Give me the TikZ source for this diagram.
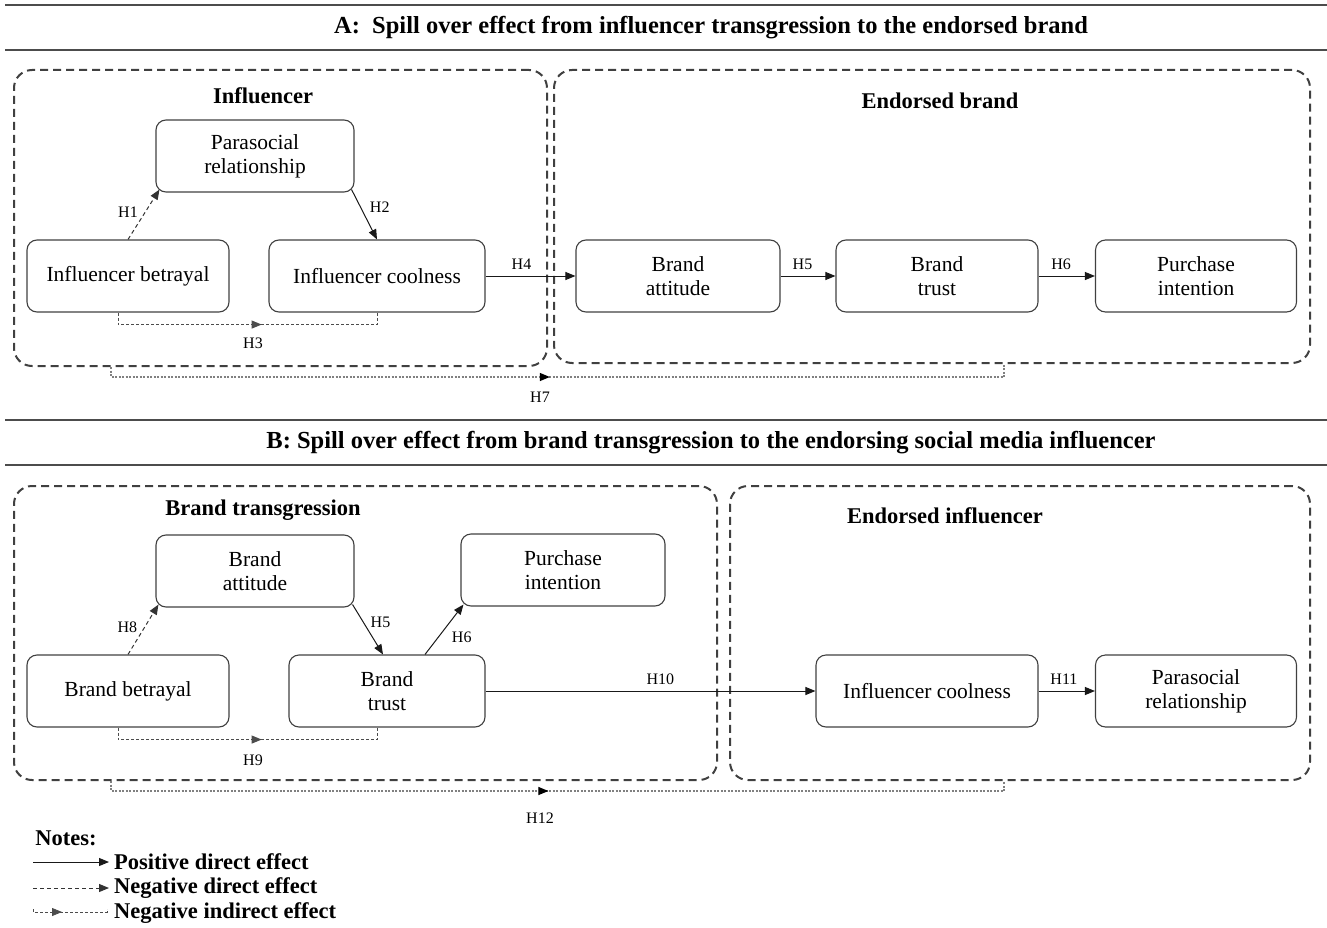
\documentclass[tikz,border=0pt]{standalone}
\usepackage{fontspec}
\setmainfont{Liberation Serif}
\usetikzlibrary{arrows.meta,calc,decorations.markings}
\begin{document}
\begin{tikzpicture}[x=1pt,y=-1pt,
  bx/.style={draw=black!75, line width=1.1pt, rounded corners=10pt, align=center,
    minimum height=72pt, inner sep=2pt, font=\fontsize{21.5}{24}\selectfont},
  grp/.style={draw=black!75, line width=2pt, dash pattern=on 8pt off 5pt, rounded corners=18pt, inner sep=0pt},
  hd/.style={font=\fontsize{22.5}{25}\selectfont\bfseries},
  ttl/.style={font=\fontsize{24.5}{27}\selectfont\bfseries},
  hl/.style={font=\fontsize{16}{18}\selectfont, inner sep=1pt},
  arrtip/.style={-{Triangle[length=10pt,width=8pt]}},
  posarr/.style={draw=black!90, line width=1pt, arrtip},
  negarr/.style={draw=black!80, line width=1pt, dash pattern=on 4pt off 3pt, arrtip},
  indarr/.style={draw=black!70, line width=1pt, dash pattern=on 3pt off 2pt,
    postaction={decorate}, decoration={markings, mark=at position #1 with {\arrow{Triangle[length=10pt,width=8pt]}}}},
  indarrb/.style={draw=black!50, line width=1.2pt, dash pattern=on 2pt off 1.5pt,
    postaction={decorate}, decoration={markings, mark=at position #1 with {\arrow[black]{Triangle[length=10pt,width=8pt]}}}},
  hrule/.style={draw=black!70, line width=2.5pt},
  legt/.style={font=\fontsize{22.5}{25}\selectfont\bfseries, anchor=west, inner sep=0pt}
]
\useasboundingbox (0,0) rectangle (1327,928);
% rules and titles
\draw[hrule] (5,5) -- (1327,5);
\draw[hrule] (5,50) -- (1327,50);
\node[ttl] (tA) at (711,28) {A:\ \ Spill over effect from influencer transgression to the endorsed brand};
\draw[hrule] (5,420) -- (1327,420);
\draw[hrule] (5,465) -- (1327,465);
\node[ttl] (tB) at (711,443) {B: Spill over effect from brand transgression to the endorsing social media influencer};

% ---------- Panel A ----------
\node[grp, minimum width=533pt, minimum height=296pt] (gA1) at (280.5,218) {};
\node[grp, minimum width=756pt, minimum height=293pt] (gA2) at (932,216.5) {};
\node[hd] (hA1) at (263,96) {Influencer};
\node[hd] (hA2) at (940,101) {Endorsed brand};

\node[bx, minimum width=198pt] (ps) at (255,156) {Parasocial\\relationship};
\node[bx, minimum width=202pt] (ib) at (128,276) {Influencer betrayal};
\node[bx, minimum width=216pt] (ic) at (377,276) {Influencer coolness};
\node[bx, minimum width=204pt] (bat) at (678,276) {Brand\\attitude};
\node[bx, minimum width=202pt] (btr) at (937,276) {Brand\\trust};
\node[bx, minimum width=201pt] (pin) at (1196,276) {Purchase\\intention};

\draw[negarr] (ib.north) -- ($(ps.south west)+(4,-3)$) node[hl, pos=0.55, left=6pt] (h1) {H1};
\draw[posarr] ($(ps.south east)+(-3,-3)$) -- (ic.north) node[hl, pos=0.35, right=8pt] (h2) {H2};
\draw[indarr=0.55] ($(ib.south)+(-10,0)$) -- ++(0,12) -| (ic.south);
\node[hl] (h3) at (253,343) {H3};
\draw[posarr] (ic.east) -- (bat.west) node[hl, pos=0.4, above=5pt] (h4) {H4};
\draw[posarr] (bat.east) -- (btr.west) node[hl, pos=0.4, above=5pt] (h5) {H5};
\draw[posarr] (btr.east) -- (pin.west) node[hl, pos=0.4, above=5pt] (h6) {H6};
\draw[indarrb=0.49] ($(gA1.south west)+(98,0)$) -- ++(0,10) -| ($(gA2.south west)+(451,0)$);
\node[hl] (h7) at (540,397) {H7};

% ---------- Panel B ----------
\node[grp, minimum width=703pt, minimum height=294pt] (gB1) at (365.5,633) {};
\node[grp, minimum width=580pt, minimum height=294pt] (gB2) at (1020,633) {};
\node[hd] (hB1) at (263,510) {Brand transgression};
\node[hd] (hB2) at (945,516) {Endorsed influencer};

\node[bx, minimum width=198pt] (ba) at (255,571) {Brand\\attitude};
\node[bx, minimum width=204pt] (pi) at (563,570) {Purchase\\intention};
\node[bx, minimum width=202pt] (bb) at (128,691) {Brand betrayal};
\node[bx, minimum width=196pt] (bt) at (387,691) {Brand\\trust};
\node[bx, minimum width=222pt] (ic2) at (927,691) {Influencer coolness};
\node[bx, minimum width=201pt] (pr) at (1196,691) {Parasocial\\relationship};

\draw[negarr] (bb.north) -- ($(ba.south west)+(3,-3)$) node[hl, pos=0.55, left=6pt] (h8) {H8};
\draw[posarr] ($(ba.south east)+(-2,-3)$) -- ($(bt.north)+(-4,0)$) node[hl, pos=0.35, right=6pt] (h5b) {H5};
\draw[posarr] ($(bt.north)+(38,0)$) -- ($(pi.south west)+(3,-2)$) node[hl, pos=0.35, right=12pt] (h6b) {H6};
\draw[indarr=0.55] ($(bb.south)+(-10,0)$) -- ++(0,12) -| ($(bt.south)+(-10,0)$);
\node[hl] (h9) at (253,760) {H9};
\draw[posarr] (bt.east) -- (ic2.west) node[hl, pos=0.53, above=5pt] (h10) {H10};
\draw[posarr] (ic2.east) -- (pr.west) node[hl, pos=0.45, above=5pt] (h11) {H11};
\draw[indarrb=0.49] ($(gB1.south west)+(98,0)$) -- ++(0,10) -| ($(gB2.south west)+(275,0)$);
\node[hl] (h12) at (540,818) {H12};

% ---------- Legend ----------
\node[font=\fontsize{22.5}{25}\selectfont\bfseries, inner sep=0pt] (notes) at (66,838) {Notes:};
\coordinate (l1a) at (33,862); \coordinate (l1b) at (109,862);
\draw[posarr] (l1a) -- (l1b);
\node[legt] (lt1) at (114,862) {Positive direct effect};
\coordinate (l2a) at (33,888); \coordinate (l2b) at (109,888);
\draw[negarr] (l2a) -- (l2b);
\node[legt] (lt2) at (114,888) {Negative direct effect};
\coordinate (l3a) at (33,909); \coordinate (l3b) at (107,909);
\draw[indarr=0.4, line width=0.8pt] (l3a) -- ++(0,3) -- ($(l3b)+(0,3)$) -- (l3b);
\node[legt] (lt3) at (114,913) {Negative indirect effect};
\end{tikzpicture}
\end{document}
